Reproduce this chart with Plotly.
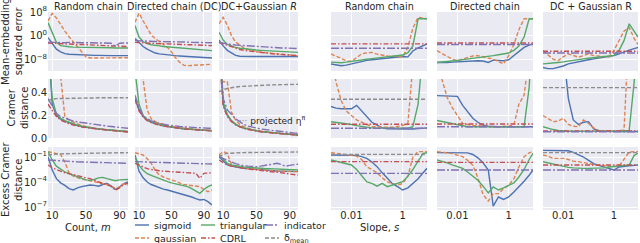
import plotly.graph_objects as go
import math

# ---------------- data ----------------
COUNTS = [5, 10, 15, 20, 25, 30, 35, 40, 45, 50, 55, 60, 65, 70, 75, 80, 85, 90, 95, 100]
SLOPES = [0.0016, 0.0025, 0.004, 0.0063, 0.01, 0.016, 0.025, 0.04, 0.063, 0.1,
          0.16, 0.25, 0.4, 0.63, 1.0, 1.6, 2.5, 4.0, 6.3, 8.9]

# Row 1: mean-embedding squared error (log10 of value)
me_rand_m = dict(
    sigmoid=[-0.7, -2.8, -4.6, -5.5, -6.1, -6.3, -6.4, -6.5, -6.6, -6.6, -6.7, -6.7, -6.7, -6.8, -6.8, -6.8, -6.8, -6.8, -6.8, -6.8],
    gaussian=[5.0, 7.5, 6.0, 3.5, 1.5, -0.4, -2.1, -3.9, -5.6, -7.2, -7.6, -7.6, -7.6, -7.6, -7.6, -7.6, -7.6, -7.6, -7.5, -7.5],
    triangular=[4.4, 1.0, -2.3, -3.4, -3.7, -3.8, -3.9, -3.9, -4.0, -4.0, -4.0, -4.0, -4.1, -4.1, -4.1, -4.1, -4.2, -4.2, -4.2, -4.2],
    CDRL=[-2.5, -2.6, -2.7, -2.7, -2.8, -2.9, -2.9, -3.0, -3.0, -3.1, -3.2, -3.2, -3.3, -3.3, -3.4, -3.5, -3.5, -3.6, -3.7, -3.7],
    indicator=[-2.2, -2.3, -2.3, -2.3, -2.4, -2.3, -2.4, -2.4, -2.4, -2.4, -2.5, -2.4, -2.5, -2.5, -2.5, -2.6, -3.6, -2.6, -2.5, -2.5],
)
me_dc_m = dict(
    sigmoid=[-1.0, -2.5, -3.7, -4.6, -5.3, -5.9, -6.2, -6.4, -6.6, -6.7, -6.8, -6.9, -7.0, -7.1, -7.2, -7.3, -7.4, -7.4, -7.5, -7.6],
    gaussian=[4.5, 7.6, 5.0, 2.5, 0.2, -1.0, -2.0, -3.0, -4.0, -5.5, -7.5, -9.0, -10.0, -10.2, -10.1, -10.0, -10.0, -9.9, -9.8, -9.7],
    triangular=[3.4, -0.5, -2.0, -2.7, -3.1, -3.4, -3.5, -3.7, -3.8, -4.0, -4.1, -4.3, -4.4, -4.5, -4.6, -4.7, -4.8, -4.9, -5.0, -5.1],
    CDRL=[-2.3, -2.4, -2.5, -2.5, -2.6, -2.7, -2.7, -2.8, -2.8, -2.9, -2.9, -3.0, -3.0, -3.1, -3.1, -3.2, -3.2, -3.3, -3.3, -3.4],
    indicator=[-1.7, -1.8, -1.8, -1.9, -1.9, -2.0, -2.0, -2.0, -2.1, -2.1, -2.1, -2.2, -2.2, -2.2, -2.3, -2.3, -2.3, -2.3, -2.4, -2.4],
)
me_dcg_m = dict(
    sigmoid=[-1.5, -3.5, -5.0, -6.0, -6.7, -7.0, -7.1, -7.1, -7.1, -7.1, -7.1, -7.1, -7.1, -7.1, -7.1, -7.1, -7.1, -7.1, -7.1, -7.1],
    gaussian=[4.0, 6.2, 3.5, 0.0, -2.2, -3.3, -4.2, -4.7, -5.1, -5.4, -5.6, -5.8, -6.0, -6.1, -6.2, -6.3, -6.5, -6.6, -6.7, -6.8],
    triangular=[1.1, -1.5, -3.0, -3.6, -4.0, -4.3, -4.5, -4.7, -4.8, -4.9, -5.0, -5.1, -5.2, -5.3, -5.4, -5.5, -5.5, -5.6, -5.7, -5.7],
    CDRL=[-2.3, -2.8, -3.4, -3.9, -4.3, -4.7, -5.0, -5.2, -5.4, -5.6, -5.8, -5.9, -6.1, -6.2, -6.3, -6.4, -6.5, -6.6, -6.7, -6.8],
    indicator=[-2.3, -2.6, -2.8, -3.0, -3.2, -3.3, -3.5, -3.6, -3.7, -3.8, -3.9, -3.9, -4.0, -4.1, -4.1, -4.2, -4.2, -4.3, -4.3, -4.4],
)
me_rand_s = dict(
    sigmoid=[-9.6, -10.0, -10.2, -10.0, -9.6, -9.0, -8.6, -8.4, -8.2, -8.0, -7.8, -7.6, -7.4, -7.2, -7.1, -7.2, -5.2, -4.2, -3.3, -2.8],
    gaussian=[-6.2, -7.0, -7.8, -8.5, -8.8, -7.4, -6.2, -5.8, -5.7, -6.3, -6.7, -6.9, -7.0, -7.1, -7.2, -4.0, 2.5, 6.2, 6.0, 5.7],
    triangular=[-9.0, -9.2, -9.2, -9.0, -8.7, -8.4, -8.2, -8.0, -7.8, -7.6, -7.4, -7.2, -7.0, -6.8, -6.6, -5.8, -3.5, 5.7, 5.7, 5.7],
    CDRL=-2.8,
    indicator=-4.3,
)
me_dc_s = dict(
    sigmoid=[-9.1, -9.2, -9.1, -9.0, -8.9, -8.7, -8.6, -8.5, -8.5, -8.6, -9.1, -8.3, -8.4, -8.5, -8.2, -6.8, -5.2, -4.0, -3.2, -2.8],
    gaussian=[-5.1, -6.0, -7.0, -8.0, -8.5, -8.0, -7.4, -6.9, -6.8, -7.2, -7.6, -8.0, -8.8, -9.6, -6.8, -3.0, 2.0, 5.7, 5.7, 5.6],
    triangular=[-9.1, -9.0, -8.8, -8.6, -8.4, -8.2, -8.0, -7.8, -7.6, -7.3, -7.0, -6.8, -6.5, -6.2, -5.9, -5.0, -3.5, -0.5, 5.7, 5.7],
    CDRL=-2.5,
    indicator=-3.0,
)
me_dcg_s = dict(
    sigmoid=[-10.8, -11.2, -11.2, -10.8, -10.3, -9.6, -9.2, -8.8, -8.5, -8.2, -7.9, -7.6, -7.3, -7.0, -6.8, -6.2, -5.5, -4.9, -4.4, -4.0],
    gaussian=[-5.1, -6.5, -8.0, -8.5, -7.2, -6.2, -6.8, -7.3, -6.8, -6.2, -6.8, -7.0, -7.2, -7.3, -5.0, -1.7, 1.5, 2.8, -1.0, -3.0],
    triangular=[-9.6, -9.5, -9.3, -9.1, -8.9, -8.6, -8.4, -8.1, -7.9, -7.7, -7.5, -7.3, -7.1, -6.9, -6.7, -5.0, -1.7, 4.0, 1.5, -0.5],
    CDRL=-5.3,
    indicator=-5.9,
)

# Row 2: Cramer distance (linear)
cr_rand_m = dict(
    sigmoid=[0.9, 0.3, 0.2, 0.17, 0.15, 0.135, 0.12, 0.11, 0.102, 0.095, 0.09, 0.085, 0.08, 0.076, 0.072, 0.068, 0.064, 0.061, 0.058, 0.056],
    gaussian=[1.0, 1.0, 1.0, 0.55, 0.19, 0.16, 0.14, 0.125, 0.112, 0.102, 0.094, 0.088, 0.082, 0.077, 0.072, 0.068, 0.064, 0.061, 0.058, 0.056],
    triangular=[0.9, 0.35, 0.21, 0.175, 0.155, 0.14, 0.125, 0.115, 0.105, 0.097, 0.091, 0.086, 0.081, 0.077, 0.073, 0.069, 0.066, 0.062, 0.06, 0.058],
    CDRL=[0.3, 0.25, 0.19, 0.16, 0.14, 0.125, 0.115, 0.105, 0.098, 0.092, 0.087, 0.082, 0.078, 0.074, 0.07, 0.066, 0.063, 0.06, 0.057, 0.055],
    indicator=[0.35, 0.28, 0.22, 0.19, 0.175, 0.16, 0.15, 0.143, 0.137, 0.131, 0.125, 0.12, 0.115, 0.11, 0.106, 0.102, 0.098, 0.094, 0.09, 0.086],
    delta=[0.33, 0.345, 0.35, 0.35, 0.352, 0.353, 0.354, 0.355, 0.355, 0.356, 0.356, 0.356, 0.357, 0.357, 0.357, 0.357, 0.357, 0.357, 0.357, 0.357],
)
cr_dc_m = dict(
    sigmoid=[0.35, 0.25, 0.19, 0.16, 0.14, 0.127, 0.117, 0.108, 0.101, 0.095, 0.09, 0.086, 0.082, 0.079, 0.076, 0.073, 0.071, 0.069, 0.067, 0.065],
    gaussian=[1.0, 1.0, 0.52, 0.25, 0.17, 0.145, 0.13, 0.12, 0.11, 0.103, 0.097, 0.092, 0.088, 0.084, 0.08, 0.077, 0.074, 0.071, 0.068, 0.066],
    triangular=[0.6, 0.3, 0.2, 0.165, 0.145, 0.13, 0.12, 0.11, 0.103, 0.097, 0.092, 0.088, 0.084, 0.08, 0.077, 0.074, 0.072, 0.07, 0.068, 0.066],
    CDRL=[0.34, 0.24, 0.185, 0.155, 0.137, 0.124, 0.114, 0.106, 0.1, 0.094, 0.089, 0.085, 0.081, 0.078, 0.075, 0.072, 0.07, 0.068, 0.066, 0.064],
    indicator=[0.38, 0.27, 0.2, 0.17, 0.152, 0.14, 0.13, 0.122, 0.116, 0.11, 0.106, 0.102, 0.099, 0.096, 0.093, 0.091, 0.09, 0.088, 0.087, 0.086],
)
cr_dcg_m = dict(
    sigmoid=[1.0, 0.3, 0.2, 0.15, 0.12, 0.1, 0.088, 0.078, 0.07, 0.063, 0.058, 0.053, 0.049, 0.045, 0.042, 0.039, 0.036, 0.033, 0.03, 0.027],
    gaussian=[0.56, 0.5, 0.5, 0.23, 0.16, 0.12, 0.1, 0.085, 0.075, 0.067, 0.06, 0.055, 0.05, 0.046, 0.043, 0.04, 0.037, 0.034, 0.031, 0.028],
    triangular=[1.0, 0.32, 0.21, 0.155, 0.123, 0.102, 0.09, 0.08, 0.072, 0.065, 0.059, 0.054, 0.05, 0.046, 0.043, 0.04, 0.037, 0.034, 0.031, 0.028],
    CDRL=[0.8, 0.28, 0.19, 0.145, 0.117, 0.098, 0.085, 0.075, 0.067, 0.061, 0.056, 0.051, 0.047, 0.044, 0.041, 0.038, 0.035, 0.032, 0.029, 0.026],
    indicator=[1.0, 0.35, 0.25, 0.21, 0.17, 0.145, 0.12, 0.105, 0.095, 0.087, 0.08, 0.075, 0.07, 0.065, 0.06, 0.056, 0.052, 0.048, 0.045, 0.042],
    delta=[0.41, 0.43, 0.44, 0.448, 0.453, 0.457, 0.46, 0.463, 0.465, 0.467, 0.469, 0.47, 0.471, 0.472, 0.473, 0.474, 0.475, 0.476, 0.477, 0.477],
)
cr_rand_s = dict(
    sigmoid=[0.28, 0.265, 0.26, 0.26, 0.26, 0.29, 0.24, 0.185, 0.14, 0.115, 0.09, 0.082, 0.08, 0.078, 0.078, 0.08, 0.08, 0.082, 0.085, 0.09],
    gaussian=[0.75, 0.5, 0.33, 0.24, 0.2, 0.16, 0.14, 0.12, 0.1, 0.1, 0.095, 0.095, 0.095, 0.1, 0.11, 0.13, 0.65, 1.0, 1.0, 1.0],
    triangular=[0.145, 0.14, 0.13, 0.125, 0.12, 0.11, 0.1, 0.095, 0.09, 0.09, 0.088, 0.086, 0.085, 0.085, 0.085, 0.088, 0.1, 0.3, 0.8, 1.0],
    CDRL=0.122,
    indicator=0.086,
    delta=0.344,
)
cr_dc_s = dict(
    sigmoid=[0.376, 0.376, 0.375, 0.375, 0.37, 0.29, 0.23, 0.175, 0.14, 0.115, 0.105, 0.1, 0.1, 0.1, 0.1, 0.1, 0.1, 0.1, 0.1, 0.1],
    gaussian=[0.9, 0.52, 0.36, 0.27, 0.2, 0.13, 0.12, 0.11, 0.11, 0.105, 0.1, 0.1, 0.1, 0.1, 0.105, 0.116, 0.3, 0.38, 0.7, 1.0],
    triangular=[0.155, 0.145, 0.135, 0.125, 0.115, 0.105, 0.1, 0.1, 0.1, 0.1, 0.1, 0.1, 0.1, 0.1, 0.1, 0.1, 0.1, 0.1, 0.45, 1.0],
    CDRL=0.125,
    indicator=0.1,
)
cr_dcg_s = dict(
    sigmoid=[1.0, 1.0, 1.0, 1.0, 0.8, 0.35, 0.16, 0.12, 0.14, 0.145, 0.08, 0.065, 0.06, 0.058, 0.058, 0.058, 0.058, 0.058, 0.058, 0.058],
    gaussian=[0.2, 0.17, 0.145, 0.15, 0.175, 0.12, 0.105, 0.1, 0.16, 0.13, 0.09, 0.065, 0.06, 0.06, 0.06, 0.062, 0.07, 1.0, 1.0, 1.0],
    triangular=[0.1, 0.085, 0.075, 0.068, 0.062, 0.06, 0.06, 0.06, 0.06, 0.06, 0.06, 0.06, 0.06, 0.06, 0.06, 0.06, 0.062, 0.068, 0.5, 1.0],
    CDRL=0.062,
    indicator=0.056,
    delta=0.447,
)

# Row 3: excess Cramer distance (log10 of value)
ex_rand_m = dict(
    sigmoid=[-0.96, -2.56, -3.6, -4.1, -4.4, -4.8, -4.95, -4.7, -4.55, -4.45, -4.36, -4.4, -4.5, -4.3, -4.16, -4.5, -4.9, -4.6, -4.2, -4.0],
    gaussian=[-0.36, -0.5, -0.6, -0.7, -1.6, -2.9, -3.3, -3.5, -3.65, -3.75, -3.85, -3.95, -4.1, -4.2, -4.3, -4.5, -4.76, -4.6, -4.2, -4.36],
    triangular=[-0.36, -1.36, -2.1, -2.5, -2.8, -3.0, -3.2, -3.4, -3.6, -3.75, -3.8, -3.7, -3.5, -3.45, -3.6, -3.7, -3.85, -3.75, -3.7, -3.7],
    CDRL=[-1.96, -2.3, -2.5, -2.7, -2.9, -3.0, -3.1, -3.2, -3.35, -3.5, -3.6, -3.8, -4.0, -4.2, -4.36, -4.5, -5.0, -4.7, -4.3, -4.16],
    indicator=[-1.36, -1.4, -1.45, -1.5, -1.5, -1.55, -1.55, -1.58, -1.6, -1.6, -1.62, -1.64, -1.65, -1.67, -1.68, -1.7, -1.72, -1.73, -1.75, -1.76],
    delta=[-0.76, -0.66, -0.64, -0.62, -0.6, -0.6, -0.58, -0.58, -0.56, -0.56, -0.55, -0.54, -0.53, -0.52, -0.52, -0.51, -0.5, -0.5, -0.49, -0.48],
)
ex_dc_m = dict(
    sigmoid=[-0.76, -2.7, -3.5, -4.0, -4.3, -4.5, -4.7, -4.85, -4.96, -5.1, -5.2, -5.35, -5.5, -5.6, -5.8, -6.0, -6.16, -6.1, -6.36, -6.76],
    gaussian=[-0.48, -0.6, -0.76, -1.2, -1.76, -2.6, -3.16, -3.4, -3.6, -3.76, -3.9, -4.1, -4.3, -4.36, -4.45, -4.5, -4.56, -4.9, -5.16, -4.96],
    triangular=[-0.96, -2.0, -2.6, -3.0, -3.2, -3.4, -3.6, -3.8, -3.95, -4.1, -4.2, -4.3, -4.45, -4.56, -4.8, -5.1, -5.36, -4.9, -4.56, -4.36],
    CDRL=[-1.76, -2.0, -2.2, -2.4, -2.5, -2.6, -2.65, -2.7, -2.72, -2.75, -2.78, -2.8, -2.85, -2.9, -2.92, -2.95, -3.56, -2.96, -2.9, -2.9],
    indicator=[-1.56, -1.58, -1.6, -1.62, -1.64, -1.66, -1.68, -1.7, -1.72, -1.73, -1.74, -1.76, -1.77, -1.78, -1.79, -1.8, -1.81, -1.82, -1.83, -1.84],
)
ex_dcg_m = dict(
    sigmoid=[-0.96, -1.5, -1.96, -2.1, -2.2, -2.3, -2.35, -2.4, -2.45, -2.5, -2.56, -2.6, -2.62, -2.65, -2.68, -2.7, -2.72, -2.74, -2.75, -2.76],
    gaussian=[-0.76, -0.36, -0.56, -1.9, -2.1, -2.25, -2.35, -2.4, -2.45, -2.5, -2.55, -2.6, -2.62, -2.65, -2.68, -2.7, -2.72, -2.74, -2.75, -2.76],
    triangular=[-0.76, -1.3, -1.76, -1.95, -2.05, -2.15, -2.2, -2.25, -2.3, -2.35, -2.36, -2.38, -2.4, -2.42, -2.45, -2.48, -2.5, -2.52, -2.54, -2.56],
    CDRL=[-1.36, -1.7, -1.95, -2.1, -2.2, -2.3, -2.36, -2.45, -2.5, -2.55, -2.6, -2.65, -2.7, -2.73, -2.76, -2.85, -2.95, -3.05, -3.1, -3.16],
    indicator=[-0.96, -1.2, -1.36, -1.6, -1.8, -1.96, -2.05, -2.1, -2.15, -2.16, -2.1, -2.0, -1.9, -1.8, -1.76, -1.9, -2.1, -2.0, -1.9, -1.86],
    delta=[-0.96, -0.7, -0.56, -0.52, -0.5, -0.48, -0.47, -0.46, -0.46, -0.45, -0.45, -0.44, -0.44, -0.43, -0.43, -0.42, -0.42, -0.41, -0.41, -0.4],
)
ex_rand_s = dict(
    sigmoid=[-0.76, -0.76, -0.76, -0.76, -0.76, -0.8, -0.95, -1.16, -1.6, -2.16, -2.9, -3.6, -4.2, -4.56, -4.96, -4.7, -4.2, -3.6, -2.9, -2.36],
    gaussian=[-0.48, -0.55, -0.65, -0.74, -0.8, -0.9, -1.3, -2.2, -2.5, -2.9, -3.5, -4.0, -4.2, -4.36, -4.2, -3.3, -1.0, -0.36, -0.36, -0.36],
    triangular=[-1.36, -1.5, -1.7, -1.85, -1.96, -2.5, -3.3, -4.0, -4.16, -4.5, -4.16, -4.56, -4.36, -4.2, -3.96, -3.3, -2.5, -1.5, -0.56, -0.48],
    CDRL=-1.56,
    indicator=-2.96,
    delta=-0.68,
)
ex_dc_s = dict(
    sigmoid=[-0.48, -0.48, -0.48, -0.48, -0.48, -0.48, -0.5, -0.7, -1.1, -1.7, -2.56, -6.9, -5.8, -6.1, -5.8, -5.2, -4.6, -3.9, -3.2, -2.56],
    gaussian=[-0.36, -0.4, -0.5, -0.6, -0.8, -0.96, -1.4, -2.0, -3.5, -5.5, -6.3, -5.4, -5.4, -4.8, -4.4, -3.6, -2.2, -0.96, -0.5, -0.36],
    triangular=[-1.36, -1.5, -1.7, -1.95, -2.15, -2.36, -2.8, -3.3, -3.8, -4.5, -5.3, -4.6, -4.96, -4.7, -4.4, -4.1, -3.4, -2.5, -1.3, -0.56],
    CDRL=-1.64,
    indicator=-2.56,
)
ex_dcg_s = dict(
    sigmoid=[-0.2, -0.2, -0.2, -0.2, -0.22, -0.25, -0.45, -0.7, -1.0, -1.4, -1.8, -2.0, -2.2, -2.36, -2.56, -2.2, -2.1, -2.05, -2.0, -1.96],
    gaussian=[-0.76, -0.9, -1.16, -1.2, -1.16, -1.3, -1.5, -1.56, -1.7, -1.76, -1.9, -1.96, -2.05, -2.16, -2.16, -2.1, -1.2, -0.4, -0.36, -0.36],
    triangular=[-1.56, -1.7, -1.85, -2.0, -2.16, -2.25, -2.3, -2.36, -2.36, -2.36, -2.36, -2.36, -2.3, -2.2, -2.16, -2.05, -2.0, -1.96, -0.8, -0.56],
    CDRL=-1.96,
    indicator=-2.56,
    delta=-0.48,
)

COL_TITLES = ["Random chain", "Directed chain (DC)", "DC+Gaussian <i>R</i>",
              "Random chain", "Directed chain", "DC + Gaussian R"]
ROW_TITLES = ["Mean-embedding<br>squared error", "Cramer<br>distance", "Excess Cramer<br>distance"]
SERIES = ["sigmoid", "gaussian", "triangular", "CDRL", "indicator", "delta"]
LABELS = {"sigmoid": "sigmoid", "gaussian": "gaussian", "triangular": "triangular",
          "CDRL": "CDRL", "indicator": "indicator", "delta": "δ<sub>mean</sub>"}

PANELS = [
    [me_rand_m, me_dc_m, me_dcg_m, me_rand_s, me_dc_s, me_dcg_s],
    [cr_rand_m, cr_dc_m, cr_dcg_m, cr_rand_s, cr_dc_s, cr_dcg_s],
    [ex_rand_m, ex_dc_m, ex_dcg_m, ex_rand_s, ex_dc_s, ex_dcg_s],
]
LOG_ROW = [True, False, True]

# ---------------- style / layout ----------------
STYLE = {
    "sigmoid": ("#4C72B0", "solid"),
    "gaussian": ("#DD8452", "4px,2px"),
    "triangular": ("#55A868", "solid"),
    "CDRL": ("#C44E52", "5px,2px,1.5px,2px"),
    "indicator": ("#8172B3", "8px,2px,2px,2px"),
    "delta": ("#8C8C8C", "4px,2px"),
}
# legend key positions (px): left x of key line, row y
LEGEND_POS = {"sigmoid": (135, 225), "gaussian": (135, 238),
              "triangular": (201, 225), "CDRL": (201, 238),
              "indicator": (265, 225), "delta": (265, 238)}
KEY_LEN, TEXT_GAP = 14, 17

W, H = 640, 243
COL_PX = [(48, 128), (135, 212), (219, 298), (331, 427), (437, 533), (543, 638)]
ROW_PX = [(12, 71), (79, 138), (147, 210)]
TXT = "#262626"
FONT = "DejaVu Sans"

fig = go.Figure()
for r in range(3):
    for c in range(6):
        k = r * 6 + c + 1
        data = PANELS[r][c]
        xs_full = COUNTS if c < 3 else SLOPES
        for s in SERIES:
            if s not in data:
                continue
            v = data[s]
            if isinstance(v, (int, float)):
                xs = [xs_full[0], xs_full[-1]]
                ys = [v, v]
            else:
                xs = xs_full
                ys = v
            if LOG_ROW[r]:
                ys = [10 ** y for y in ys]
            color, dash = STYLE[s]
            fig.add_trace(go.Scatter(
                x=xs, y=ys, mode="lines",
                line=dict(color=color, width=1.4, dash=dash),
                name=LABELS[s], showlegend=False,
                xaxis="x" if k == 1 else f"x{k}", yaxis="y" if k == 1 else f"y{k}",
                hoverinfo="skip",
            ))

layout = dict(
    width=W, height=H, margin=dict(l=0, r=0, t=0, b=0, autoexpand=False),
    paper_bgcolor="white", plot_bgcolor="#EAEAF2", showlegend=False,
    font=dict(family=FONT, size=10, color=TXT),
)

for r in range(3):
    for c in range(6):
        k = r * 6 + c + 1
        sx = "" if k == 1 else str(k)
        x0, x1 = COL_PX[c]
        y0, y1 = ROW_PX[r]
        xa = dict(domain=[x0 / W, x1 / W], anchor=f"y{sx}", showgrid=True, gridcolor="white",
                  gridwidth=1, zeroline=False, showline=False, ticks="", automargin=False,
                  ticklabelstandoff=-2,
                  showticklabels=(r == 2), tickfont=dict(size=10, color=TXT, family=FONT))
        if c < 3:
            xa.update(type="linear", range=[COUNTS[0], COUNTS[-1]], tickvals=[10, 50, 90])
        else:
            xa.update(type="log", range=[math.log10(SLOPES[0]), math.log10(SLOPES[-1])],
                      tickvals=[0.01, 1], ticktext=["0.01", "1"])
        ya = dict(domain=[1 - y1 / H, 1 - y0 / H], anchor=f"x{sx}", showgrid=True, gridcolor="white",
                  gridwidth=1, zeroline=False, showline=False, ticks="", automargin=False,
                  showticklabels=(c == 0), tickfont=dict(size=10, color=TXT, family=FONT))
        if r == 0:
            ya.update(type="log", range=[-12, 8], tickvals=[1e8, 1, 1e-8],
                      ticktext=["10<sup>8</sup>", "10<sup>0</sup>", "10<sup>−8</sup>"])
        elif r == 1:
            ya.update(type="linear", range=[0, 0.524], tickvals=[0, 0.2, 0.4],
                      ticktext=["0.0", "0.2", "0.4"])
        else:
            ya.update(type="log", range=[-7.36, 0.2], tickvals=[1e-1, 1e-4, 1e-7],
                      ticktext=["10<sup>−1</sup>", "10<sup>−4</sup>", "10<sup>−7</sup>"])
        layout[f"xaxis{sx}"] = xa
        layout[f"yaxis{sx}"] = ya

ann = []
for c in range(6):
    x0, x1 = COL_PX[c]
    ann.append(dict(text=COL_TITLES[c], x=(x0 + x1) / 2 / W, y=1 - 6 / H, xref="paper", yref="paper",
                    xanchor="center", yanchor="middle", showarrow=False, font=dict(size=9.6, color=TXT)))
for r, (xc, yc) in enumerate([(12, 42), (18, 108), (12, 180)]):
    ann.append(dict(text=ROW_TITLES[r], x=xc / W, y=1 - yc / H, xref="paper", yref="paper",
                    xanchor="center", yanchor="middle", textangle=-90, showarrow=False,
                    font=dict(size=10, color=TXT)))
ann.append(dict(text="Count, <i>m</i>", x=88 / W, y=1 - 227 / H, xref="paper", yref="paper",
                xanchor="center", yanchor="middle", showarrow=False, font=dict(size=10, color=TXT)))
ann.append(dict(text="Slope, <i>s</i>", x=379 / W, y=1 - 227 / H, xref="paper", yref="paper",
                xanchor="center", yanchor="middle", showarrow=False, font=dict(size=10, color=TXT)))
ann.append(dict(text="<span style='color:#8C8C8C'>····</span> projected η<sup>π</sup>",
                x=270 / W, y=1 - 120 / H, xref="paper", yref="paper",
                xanchor="center", yanchor="middle", showarrow=False, font=dict(size=9, color=TXT)))

shapes = []
for s in SERIES:
    lx, ly = LEGEND_POS[s]
    color, dash = STYLE[s]
    shapes.append(dict(type="line", xref="paper", yref="paper",
                       x0=lx / W, x1=(lx + KEY_LEN) / W, y0=1 - ly / H, y1=1 - ly / H,
                       line=dict(color=color, width=1.4, dash=dash)))
    ann.append(dict(text=LABELS[s], x=(lx + TEXT_GAP) / W, y=1 - ly / H, xref="paper", yref="paper",
                    xanchor="left", yanchor="middle", showarrow=False, font=dict(size=9.5, color=TXT)))
layout["annotations"] = ann
layout["shapes"] = shapes

fig.update_layout(**layout)
fig.write_html("out.html", config={"displayModeBar": False, "staticPlot": True},
               post_script="document.body.style.margin='0px';")
